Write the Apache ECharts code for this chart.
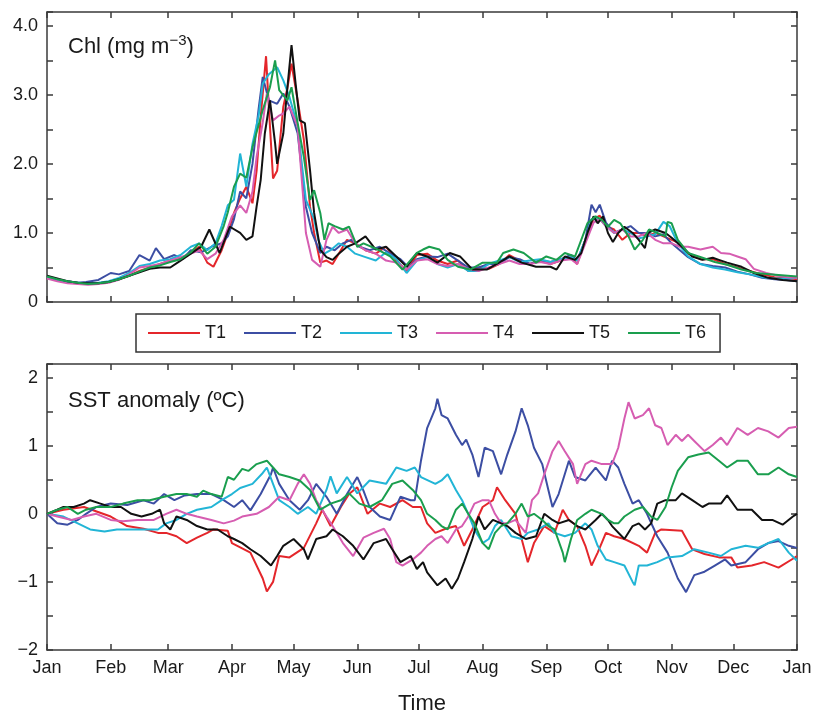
<!DOCTYPE html>
<html>
<head>
<meta charset="utf-8">
<script src="https://cdn.jsdelivr.net/npm/echarts@6/dist/echarts.min.js"></script>
<style>
html,body{margin:0;padding:0;background:#fff;}
#chart{width:817px;height:716px;}
</style>
</head>
<body>
<div id="chart"></div>
<script>
const seriesNames = ['T1','T2','T3','T4','T5','T6'];
const seriesColors = ['#e4262b','#3c4ea3','#22b5d6','#d65db1','#111111','#1a9e4e'];
const monthDays = [0,31,59,90,120,151,181,212,243,273,304,334,365];
const monthLabels = ['Jan','Feb','Mar','Apr','May','Jun','Jul','Aug','Sep','Oct','Nov','Dec','Jan'];

// Chlorophyll (mg m-3): [day of year, value]
const chlT1 = [[0,0.36],[5,0.32],[10,0.29],[15,0.27],[20,0.26],[25,0.27],[30,0.29],[35,0.33],[40,0.38],[45,0.45],[50,0.5],[55,0.55],[60,0.6],[65,0.63],[70,0.72],[74,0.8],[78,0.57],[81,0.51],[85,0.75],[88,1.0],[91,1.29],[94,1.5],[97,1.67],[100,1.43],[102,1.9],[104,2.68],[106.6,3.56],[108,2.8],[110,1.79],[112,1.9],[115,2.83],[117,3.1],[119,3.45],[122,2.92],[125,2.35],[128,1.38],[130,1.0],[133,0.57],[136,0.6],[139,0.55],[142,0.7],[146,0.9],[150,0.85],[155,0.75],[160,0.7],[165,0.8],[170,0.6],[175,0.45],[180,0.68],[185,0.7],[190,0.6],[195,0.55],[200,0.6],[205,0.45],[210,0.5],[215,0.48],[220,0.55],[225,0.68],[230,0.6],[235,0.55],[240,0.6],[245,0.55],[250,0.6],[255,0.65],[258,0.55],[262,0.9],[266,1.2],[269,1.25],[272,1.1],[276,1.05],[280,0.9],[284,1.0],[288,1.0],[292,0.95],[296,1.0],[300,0.95],[304,0.9],[308,0.85],[312,0.7],[318,0.62],[324,0.62],[330,0.55],[336,0.5],[342,0.45],[348,0.4],[354,0.36],[360,0.35],[365,0.33]];
const chlT2 = [[0,0.35],[5,0.32],[10,0.3],[15,0.28],[19,0.29],[25,0.32],[31,0.42],[35,0.4],[40,0.45],[45,0.68],[50,0.6],[53,0.78],[57,0.62],[62,0.68],[66,0.62],[70,0.75],[75,0.72],[80,0.8],[85,0.85],[88,0.95],[91,1.2],[94,1.6],[97,1.5],[100,2.0],[103,2.8],[105,3.26],[108,2.92],[112,2.87],[115,3.02],[118,2.83],[122,2.44],[126,1.38],[129,1.0],[133,0.71],[136,0.8],[140,0.75],[144,0.85],[148,0.9],[152,0.8],[157,0.75],[162,0.8],[167,0.7],[172,0.62],[176,0.5],[180,0.62],[185,0.66],[190,0.65],[195,0.7],[200,0.6],[205,0.5],[210,0.5],[215,0.55],[220,0.55],[225,0.65],[230,0.62],[235,0.55],[240,0.6],[245,0.58],[250,0.62],[255,0.68],[258,0.6],[262,0.9],[265,1.41],[267,1.3],[269,1.41],[272,1.15],[276,1.0],[280,1.05],[284,1.1],[288,1.0],[292,1.0],[296,0.95],[300,0.98],[304,0.85],[308,0.75],[312,0.65],[318,0.55],[324,0.52],[330,0.5],[336,0.44],[342,0.4],[348,0.35],[354,0.33],[360,0.32],[365,0.3]];
const chlT3 = [[0,0.36],[5,0.32],[10,0.29],[15,0.28],[20,0.27],[25,0.28],[30,0.3],[35,0.35],[40,0.42],[45,0.52],[50,0.55],[55,0.6],[60,0.62],[65,0.68],[70,0.8],[74,0.85],[78,0.75],[82,0.85],[85,1.1],[88,1.4],[91,1.48],[94,2.15],[97,1.67],[100,2.29],[103,2.7],[105,3.16],[108,3.3],[112,3.4],[115,3.21],[118,2.97],[122,2.54],[126,1.48],[130,1.2],[132,0.9],[135,0.7],[138,0.75],[142,0.85],[146,0.8],[150,0.7],[155,0.65],[160,0.6],[165,0.72],[170,0.62],[175,0.42],[180,0.6],[185,0.65],[190,0.55],[195,0.5],[200,0.55],[205,0.45],[210,0.45],[215,0.55],[220,0.6],[225,0.65],[230,0.58],[235,0.6],[240,0.62],[245,0.58],[250,0.62],[255,0.65],[258,0.6],[262,0.9],[265,1.2],[269,1.2],[272,1.1],[276,1.0],[280,1.05],[284,1.0],[288,0.92],[292,0.95],[296,0.98],[300,1.16],[303,1.1],[307,0.85],[312,0.66],[318,0.55],[324,0.5],[330,0.47],[336,0.43],[342,0.4],[348,0.36],[354,0.34],[360,0.34],[365,0.35]];
const chlT4 = [[0,0.34],[5,0.3],[10,0.27],[15,0.26],[20,0.25],[25,0.26],[30,0.28],[35,0.32],[40,0.4],[45,0.5],[50,0.52],[55,0.55],[60,0.6],[65,0.65],[70,0.7],[74,0.75],[78,0.62],[82,0.7],[86,0.9],[90,1.24],[94,1.4],[97,1.29],[100,1.6],[102,2.1],[105,2.6],[107,3.02],[110,2.63],[113,2.7],[115,2.73],[118,2.83],[122,2.54],[126,1.0],[129,0.61],[133,0.51],[136,0.9],[139,1.09],[142,1.0],[146,1.05],[150,0.85],[155,0.75],[160,0.7],[165,0.6],[170,0.57],[175,0.47],[180,0.6],[185,0.62],[190,0.55],[195,0.52],[200,0.55],[205,0.48],[210,0.45],[215,0.5],[220,0.55],[225,0.6],[230,0.55],[235,0.55],[240,0.58],[245,0.55],[250,0.6],[255,0.62],[258,0.55],[262,0.85],[266,1.15],[269,1.2],[272,1.1],[276,1.0],[280,1.05],[284,0.95],[288,0.95],[292,1.0],[296,0.9],[300,0.85],[304,0.85],[308,0.8],[312,0.8],[318,0.76],[324,0.8],[328,0.71],[332,0.7],[336,0.66],[340,0.62],[344,0.48],[350,0.42],[356,0.38],[360,0.36],[365,0.35]];
const chlT5 = [[0,0.38],[5,0.34],[10,0.3],[15,0.28],[20,0.27],[25,0.27],[30,0.29],[35,0.33],[40,0.38],[45,0.43],[50,0.48],[55,0.5],[60,0.5],[65,0.6],[70,0.7],[75,0.8],[79,1.05],[84,0.71],[89,1.09],[94,1.0],[97,0.9],[100,0.95],[102,1.38],[104,1.77],[106,2.44],[108.5,2.92],[111,2.3],[112,2.0],[115,2.44],[117,3.11],[119,3.72],[121,3.16],[123,2.63],[125.5,2.59],[128,1.91],[130,1.29],[133,0.76],[136,0.65],[139,0.61],[142,0.7],[146,0.8],[150,0.85],[155,0.95],[160,0.76],[165,0.8],[170,0.66],[175,0.51],[180,0.71],[185,0.66],[190,0.57],[196,0.71],[201,0.66],[207,0.47],[214,0.47],[220,0.57],[225,0.66],[231,0.57],[238,0.51],[245,0.51],[248,0.47],[252,0.66],[257,0.61],[260,0.71],[263,1.0],[266,1.24],[268,1.14],[270.6,1.24],[273,1.0],[275.4,0.87],[278,1.0],[281,1.09],[285,1.0],[288,0.9],[291,0.78],[292.5,1.0],[296,1.05],[301,1.0],[304,0.93],[309,0.8],[314,0.66],[319,0.61],[324,0.64],[327,0.61],[331,0.57],[338,0.51],[344,0.42],[351,0.35],[358,0.32],[365,0.3]];
const chlT6 = [[0,0.37],[5,0.33],[10,0.3],[15,0.28],[20,0.26],[25,0.27],[30,0.29],[35,0.33],[40,0.38],[45,0.44],[50,0.5],[55,0.53],[60,0.58],[65,0.62],[70,0.72],[74,0.85],[78,0.7],[82,0.8],[86,1.1],[88,1.3],[91,1.67],[94,1.86],[97,1.8],[100,2.24],[105,2.78],[108.5,3.11],[111,3.5],[113,3.07],[117,2.92],[119,3.11],[122,2.59],[125,2.1],[128,1.48],[130,1.62],[133,1.29],[135,0.9],[137,1.14],[140,1.1],[144,1.05],[147,1.09],[151,0.8],[154,0.85],[161,0.76],[167,0.66],[173,0.47],[180,0.71],[183,0.76],[186,0.8],[191,0.76],[195,0.61],[200,0.51],[206,0.47],[212,0.57],[219,0.57],[222,0.71],[227,0.76],[232,0.71],[238,0.57],[243,0.66],[248,0.61],[252,0.71],[257,0.66],[263,1.14],[267,1.24],[270,1.19],[273,1.09],[276,1.19],[279,1.14],[283,0.95],[286,0.76],[290,0.9],[293,1.05],[297,1.0],[301,0.95],[302,1.16],[304,1.14],[307,0.9],[312,0.71],[319,0.64],[325,0.58],[331,0.54],[338,0.47],[345,0.42],[353,0.4],[365,0.37]];

// SST anomaly (ºC): [day of year, value]
const sstT1 = [[0,0],[8,0.06],[18,0.1],[31,-0.04],[39,-0.18],[47,-0.22],[54,-0.28],[58,-0.28],[63,-0.33],[68,-0.43],[73,-0.35],[78,-0.28],[81,-0.23],[88,-0.25],[90,-0.43],[99,-0.57],[105,-0.95],[107,-1.14],[110,-1.0],[113,-0.62],[118,-0.64],[125,-0.5],[131,-0.14],[134,0.06],[138,-0.18],[143,0.1],[147,0.29],[151,0.39],[156,0],[162,0.15],[167,0.1],[173,0.2],[178,0.1],[182,0.1],[185,-0.14],[189,-0.28],[194,-0.22],[199,-0.18],[203,-0.47],[207,-0.23],[212,0.1],[217,0.2],[219,0.39],[223,0.2],[228,0],[231,-0.37],[234,-0.71],[237,-0.43],[242,-0.18],[247,-0.28],[251,0.06],[254,-0.09],[258,-0.18],[262,-0.47],[265,-0.76],[268,-0.57],[272,-0.28],[276,-0.33],[281,-0.37],[288,-0.47],[292,-0.57],[296,-0.28],[299,-0.23],[309,-0.25],[314,-0.52],[320,-0.59],[327,-0.64],[333,-0.64],[336,-0.79],[343,-0.76],[349,-0.71],[356,-0.79],[363,-0.66],[365,-0.62]];
const sstT2 = [[0,0],[5,-0.14],[10,-0.16],[15,-0.09],[19,0],[24,0.1],[31,0.15],[39,0.13],[47,0.2],[52,0.15],[57,0.29],[62,0.2],[67,0.27],[73,0.29],[80,0.29],[86,0.2],[91,0.1],[95,0.2],[99,0.05],[104,0.29],[109,0.58],[110,0.68],[113,0.44],[118,0.2],[123,0.06],[127,0.2],[131,0.44],[136,0.25],[141,0],[146,0.29],[151,0.54],[154,0.34],[157,0.1],[162,-0.04],[167,-0.09],[172,0.25],[177,0.2],[179,0.2],[182,0.78],[185,1.26],[189,1.55],[190,1.69],[192,1.45],[195,1.4],[199,1.16],[202,1.01],[204,1.09],[207,0.87],[210,0.54],[213,0.97],[217,0.92],[221,0.58],[224,0.87],[228,1.21],[231,1.55],[234,1.3],[237,0.97],[241,0.73],[244,0.35],[246,0.1],[249,0.29],[254,0.78],[257,0.54],[262,0.49],[267,0.68],[272,0.49],[275,0.78],[278,0.68],[281,0.44],[285,0.15],[288,0.2],[292,0],[297,-0.33],[302,-0.57],[307,-0.95],[311,-1.15],[315,-0.9],[320,-0.85],[325,-0.76],[330,-0.67],[333,-0.76],[340,-0.71],[346,-0.52],[351,-0.43],[356,-0.4],[361,-0.47],[365,-0.5]];
const sstT3 = [[0,0],[8,-0.04],[15,-0.14],[21,-0.23],[28,-0.26],[34,-0.23],[41,-0.23],[47,-0.23],[54,-0.23],[58,-0.14],[63,-0.09],[68,0],[73,0.06],[80,0.1],[85,0.2],[90,0.29],[94,0.38],[100,0.44],[105,0.6],[107,0.68],[110,0.44],[113,0.2],[118,0.1],[122,0],[127,0.1],[131,0],[136,0.35],[138,0.55],[141,0.3],[146,0.54],[151,0.3],[157,0.49],[165,0.44],[170,0.68],[175,0.63],[179,0.68],[182,0.54],[189,0.44],[192,0.49],[195,0.58],[199,0.35],[202,0.2],[205,0],[208,-0.23],[212,-0.43],[215,-0.37],[218,-0.18],[221,-0.09],[226,-0.33],[231,-0.37],[234,-0.28],[239,-0.23],[244,-0.14],[247,-0.28],[252,-0.33],[257,-0.28],[262,-0.14],[265,-0.23],[268,-0.47],[272,-0.67],[276,-0.71],[281,-0.76],[285,-1.0],[286,-1.05],[288,-0.76],[292,-0.76],[297,-0.71],[302,-0.64],[309,-0.62],[315,-0.52],[322,-0.57],[328,-0.62],[333,-0.52],[340,-0.47],[346,-0.5],[351,-0.43],[356,-0.37],[361,-0.57],[365,-0.69]];
const sstT4 = [[0,0],[5,-0.04],[12,-0.09],[18,-0.04],[24,0],[31,-0.09],[37,-0.11],[44,-0.09],[52,-0.09],[58,0],[63,0.06],[68,0],[73,-0.04],[80,-0.09],[86,-0.14],[91,-0.1],[95,-0.04],[102,0],[108,0.1],[113,0.25],[118,0.2],[122,0.44],[125,0.58],[128,0.44],[131,0.2],[136,-0.04],[139,-0.18],[144,-0.43],[149,-0.62],[154,-0.35],[159,-0.28],[164,-0.22],[167,-0.37],[170,-0.71],[173,-0.76],[178,-0.67],[182,-0.57],[185,-0.47],[189,-0.37],[192,-0.33],[195,-0.43],[199,-0.23],[202,-0.18],[205,-0.04],[208,0.15],[212,0.2],[215,0.2],[218,0],[221,-0.14],[224,-0.14],[228,-0.09],[233,-0.28],[236,0.2],[239,0.3],[242,0.58],[246,0.92],[249,1.07],[252,0.92],[256,0.73],[258,0.44],[262,0.73],[265,0.78],[270,0.73],[275,0.73],[278,0.97],[281,1.4],[283,1.64],[286,1.4],[290,1.45],[293,1.55],[296,1.3],[299,1.26],[302,1.01],[306,1.16],[309,1.07],[312,1.16],[315,1.07],[320,0.92],[324,1.01],[328,1.12],[331,1.01],[336,1.26],[341,1.16],[346,1.26],[351,1.21],[356,1.12],[361,1.26],[365,1.28]];
const sstT5 = [[0,0],[5,0.06],[8,0.1],[13,0.1],[18,0.15],[21,0.2],[26,0.15],[31,0.1],[36,0.1],[41,0],[46,-0.04],[51,0],[55,0.06],[57,-0.14],[60,-0.23],[63,-0.04],[68,-0.09],[73,-0.18],[78,-0.23],[83,-0.23],[88,-0.33],[91,-0.37],[95,-0.43],[99,-0.52],[104,-0.62],[109,-0.76],[112,-0.62],[115,-0.47],[120,-0.37],[125,-0.52],[127,-0.67],[131,-0.37],[136,-0.33],[139,-0.23],[144,-0.33],[149,-0.47],[154,-0.67],[159,-0.43],[165,-0.37],[168,-0.52],[172,-0.71],[177,-0.62],[180,-0.81],[183,-0.71],[185,-0.86],[190,-1.05],[194,-0.95],[197,-1.1],[200,-0.95],[203,-0.71],[207,-0.37],[210,-0.04],[213,-0.23],[217,-0.09],[221,-0.14],[224,-0.18],[228,-0.28],[233,-0.37],[238,-0.33],[242,0],[246,-0.09],[249,-0.14],[254,-0.09],[258,-0.18],[262,-0.23],[267,-0.09],[270,0],[273,-0.09],[275,-0.18],[281,-0.37],[285,-0.18],[288,-0.14],[291,-0.23],[294,-0.14],[297,0.15],[301,0.2],[306,0.2],[309,0.3],[314,0.2],[319,0.1],[322,0.15],[328,0.15],[331,0.27],[336,0.06],[343,0.06],[348,-0.09],[353,-0.09],[358,-0.16],[363,-0.04],[365,0]];
const sstT6 = [[0,0],[5,0.06],[10,0.1],[15,0],[19,0.06],[24,0.1],[31,0.1],[37,0.15],[44,0.2],[50,0.2],[57,0.25],[63,0.29],[68,0.29],[73,0.25],[76,0.34],[80,0.29],[85,0.25],[88,0.54],[91,0.5],[95,0.66],[98,0.63],[102,0.73],[107,0.78],[110,0.68],[113,0.58],[118,0.54],[123,0.49],[128,0.35],[133,0.06],[138,0.15],[143,0.2],[147,0.3],[152,0.15],[157,0.1],[163,0.2],[168,0.44],[173,0.49],[178,0.35],[182,0.2],[185,0],[189,-0.09],[192,-0.18],[195,-0.23],[199,0.06],[202,0.15],[205,0],[208,-0.14],[212,-0.43],[215,-0.52],[218,-0.28],[221,-0.18],[224,-0.14],[228,0],[231,0.15],[234,-0.04],[237,0],[241,-0.09],[244,-0.18],[247,-0.23],[251,-0.57],[252,-0.71],[255,-0.37],[258,-0.09],[262,0],[265,0.06],[270,0],[273,-0.09],[276,-0.14],[278,-0.14],[281,-0.04],[286,0.06],[290,0.1],[294,-0.04],[297,-0.09],[301,0.1],[304,0.39],[307,0.63],[312,0.83],[317,0.87],[322,0.9],[327,0.78],[331,0.68],[336,0.78],[341,0.78],[346,0.58],[351,0.58],[356,0.68],[361,0.58],[365,0.54]];

const chlData = [chlT1, chlT2, chlT3, chlT4, chlT5, chlT6];
const sstData = [sstT1, sstT2, sstT3, sstT4, sstT5, sstT6];

const FONT = '"Liberation Sans", Arial, Helvetica, sans-serif';
const AXC = '#3a3a3a';
const TXT = '#1a1a1a';

function xAxisDef(gridIndex, position, showLabels) {
  const ax = {
    type: 'value', gridIndex: gridIndex, position: position, min: 0, max: 365,
    axisLine: {show: true, onZero: false, lineStyle: {color: AXC, width: 1.5}},
    axisTick: {show: true, inside: true, length: 6, customValues: monthDays, lineStyle: {color: AXC, width: 1.5}},
    axisLabel: {show: showLabels, customValues: monthDays, margin: 9, fontSize: 18, color: TXT, fontFamily: FONT,
      formatter: function (v) { const i = monthDays.indexOf(v); return i >= 0 ? monthLabels[i] : ''; }},
    splitLine: {show: false}
  };
  if (showLabels) {
    ax.name = 'Time'; ax.nameLocation = 'middle'; ax.nameGap = 43;
    ax.nameTextStyle = {fontSize: 22, color: TXT, fontFamily: FONT};
  }
  return ax;
}
function yAxisDef(gridIndex, position, min, max, showLabels, fmt) {
  return {
    type: 'value', gridIndex: gridIndex, position: position, min: min, max: max, interval: 0.5,
    axisLine: {show: true, onZero: false, lineStyle: {color: AXC, width: 1.5}},
    axisTick: {show: true, inside: true, length: 6, lineStyle: {color: AXC, width: 1.5}},
    axisLabel: {show: showLabels, margin: 9, fontSize: 18, color: TXT, fontFamily: FONT, formatter: fmt},
    splitLine: {show: false}
  };
}
const chlFmt = function (v) { return Math.abs(v - Math.round(v)) < 1e-9 ? (Math.round(v) === 0 ? '0' : Math.round(v).toFixed(1)) : ''; };
const sstFmt = function (v) {
  if (Math.abs(v - Math.round(v)) > 1e-9) return '';
  const r = Math.round(v);
  return r < 0 ? '\u2212' + (-r) : String(r);
};

const series = [];
seriesNames.forEach(function (name, i) {
  series.push({name: name, type: 'line', xAxisIndex: 0, yAxisIndex: 0, data: chlData[i], symbol: 'none',
    lineStyle: {color: seriesColors[i], width: 2}, itemStyle: {color: seriesColors[i]}, z: 2 + i});
});
seriesNames.forEach(function (name, i) {
  series.push({name: name, type: 'line', xAxisIndex: 2, yAxisIndex: 2, data: sstData[i], symbol: 'none',
    lineStyle: {color: seriesColors[i], width: 2}, itemStyle: {color: seriesColors[i]}, z: 2 + i});
});

const chart = echarts.init(document.getElementById('chart'), null, {renderer: 'canvas'});
chart.setOption({
  animation: false,
  backgroundColor: '#fff',
  textStyle: {fontFamily: FONT},
  title: [
    {text: '{a|Chl (mg m}{s|\u22123}{a|)}', left: 63, top: 28,
     textStyle: {rich: {a: {fontSize: 22, fontWeight: 'normal', color: TXT, fontFamily: FONT},
                        s: {fontSize: 15, fontWeight: 'normal', color: TXT, fontFamily: FONT, padding: [0, 0, 12, 0]}}}},
    {text: 'SST anomaly (ºC)', left: 63, top: 385,
     textStyle: {fontSize: 22, fontWeight: 'normal', color: TXT, fontFamily: FONT}}
  ],
  legend: {
    data: seriesNames, left: 136, top: 314, orient: 'horizontal',
    itemWidth: 52, itemHeight: 14, itemGap: 17, itemTextGap: 7,
    padding: [10, 14, 10, 11], borderColor: '#333', borderWidth: 1.5,
    itemStyle: {opacity: 0},
    lineStyle: {width: 2},
    textStyle: {fontSize: 18, color: TXT, fontFamily: FONT}
  },
  grid: [
    {left: 47, right: 20, top: 12, height: 290},
    {left: 47, right: 20, top: 364, height: 292}
  ],
  xAxis: [
    xAxisDef(0, 'bottom', false),
    xAxisDef(0, 'top', false),
    xAxisDef(1, 'bottom', true),
    xAxisDef(1, 'top', false)
  ],
  yAxis: [
    yAxisDef(0, 'left', 0, 4.2, true, chlFmt),
    yAxisDef(0, 'right', 0, 4.2, false, chlFmt),
    yAxisDef(1, 'left', -2, 2.2, true, sstFmt),
    yAxisDef(1, 'right', -2, 2.2, false, sstFmt)
  ],
  series: series
});
</script>
</body>
</html>
